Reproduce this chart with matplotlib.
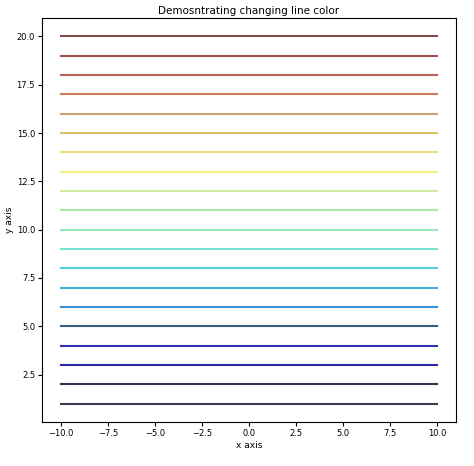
import matplotlib

matplotlib.use("Agg")
import matplotlib.pyplot as plt
import numpy as np

x_values = [-10, 10]
y_levels = list(range(1, 21))
line_colors = [
    "#3c3c4c", "#33334c", "#2a2aa8", "#2c34b4", "#3a5c80",
    "#3a92d2", "#44b2d4", "#52d0da", "#74e2d2", "#94e8ba",
    "#a6eaa4", "#d2eca4", "#f2f284", "#e8e074", "#d8c266",
    "#cca274", "#d07a5c", "#b8625a", "#9a5252", "#824a4a",
]

fig = plt.figure(figsize=(4.74, 4.66), dpi=100)
ax = fig.add_axes([42 / 474, 44 / 466, 414 / 474, 404 / 466])

for y, c in zip(y_levels, line_colors):
    ax.plot(x_values, [y, y], color=c, lw=1.5)

ax.set_title("Demosntrating changing line color", fontsize=7.5, pad=3)
ax.set_xlabel("x axis", fontsize=6.5, labelpad=2)
ax.set_ylabel("y axis", fontsize=6.5, labelpad=2)
ax.set_xticks(np.arange(-10, 10.1, 2.5))
ax.set_yticks(np.arange(2.5, 20.1, 2.5))
ax.tick_params(labelsize=6, length=3, pad=2)

fig.savefig("out.png", dpi=100)
